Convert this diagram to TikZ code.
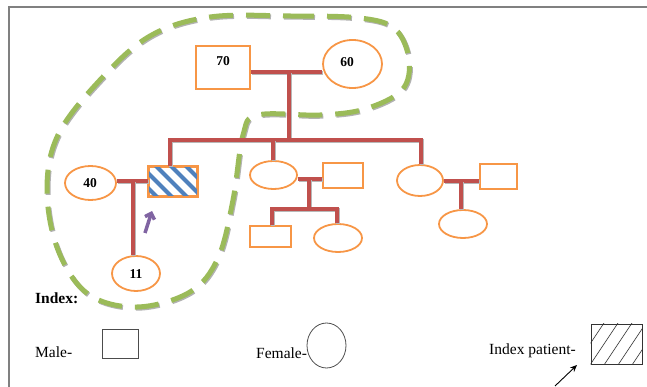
\documentclass[tikz,border=0pt]{standalone}
\usepackage{fontspec}
\setmainfont{Liberation Serif}
\usetikzlibrary{shapes.geometric,arrows.meta,calc}
\definecolor{pedred}{HTML}{C0504D}
\definecolor{pedorange}{HTML}{F79646}
\definecolor{pedgreen}{HTML}{9BBB59}
\definecolor{pedblue}{HTML}{4F81BD}
\definecolor{pedpurple}{HTML}{8064A2}
\begin{document}
\begin{tikzpicture}[x=1pt,y=-1pt,
  male/.style={draw=pedorange,line width=1.8pt,rectangle,inner sep=0pt},
  female/.style={draw=pedorange,line width=1.8pt,ellipse,inner sep=0pt},
  num/.style={font=\fontsize{13.5}{14}\selectfont\bfseries,inner sep=0pt},
  rel/.style={draw=pedred,line width=3.5pt,preaction={draw=black!28,line width=3.5pt,transform canvas={shift={(1pt,-1.2pt)}}}},
  loopline/.style={draw=pedgreen,line width=5pt,dash pattern=on 24pt off 13pt,
    preaction={draw=black!30,line width=5pt,dash pattern=on 24pt off 13pt,transform canvas={shift={(1pt,-1.2pt)}}}},
  lab/.style={font=\fontsize{15.5}{16}\selectfont,inner sep=0pt,anchor=west},
  legbox/.style={draw=black!70,line width=0.8pt,inner sep=0pt},
]
\useasboundingbox (0,0) rectangle (647,387);
% frame
\draw[black!50,line width=1.4pt] (647,7) -- (9,7) -- (9,387);

% green dashed loop
\draw[loopline]
  plot[smooth cycle,tension=0.6] coordinates {
  (210,17) (290,16) (360,18) (395,29) (409,60) (402,90) (365,109) (320,115)
  (258,115) (243,135) (233,200) (218,258) (190,292) (137,307) (88,294)
  (58,250) (47,190) (58,135) (100,80) (150,36)};

% nodes
\node[male,minimum width=54,minimum height=43] (m70) at (223,67.5) {};
\node[female,minimum width=59,minimum height=48] (f60) at (352.5,64) {};
\node[male,minimum width=48,minimum height=29] (ip) at (173,181.5) {};
\node[female,minimum width=47,minimum height=28] (f2) at (273.5,175) {};
\node[female,minimum width=46,minimum height=31] (f3) at (420,180.5) {};
\node[male,minimum width=40,minimum height=25] (m2s) at (343,175.5) {};
\node[male,minimum width=37,minimum height=25] (m3s) at (498.5,176.5) {};
\node[male,minimum width=41,minimum height=21] (gc1) at (270.5,236.5) {};
\node[female,minimum width=48,minimum height=28] (gc2) at (338,238) {};
\node[female,minimum width=48,minimum height=28] (gc3) at (463,224) {};
\node[female,minimum width=51,minimum height=34] (f40) at (90.5,183) {};
\node[female,minimum width=48,minimum height=35] (c11) at (136,273.5) {};

% hatched index patient
\begin{scope}
  \clip (ip.south west) rectangle (ip.north east);
  \foreach \x in {107,122,...,197} \draw[pedblue,line width=4pt] (\x,162) -- ++(40,40);
\end{scope}
\draw[pedorange,line width=1.8pt] (ip.south west) rectangle (ip.north east);

% texts
\node[num] (t70) at (223,61) {70};
\node[num] (t60) at (347,62) {60};
\node[num] (t40) at (90,183) {40};
\node[num] (t11) at (136,274) {11};

% relationship lines
\coordinate (c1) at (289,72);
\coordinate (s1) at (289,140);
\draw[rel] (c1 -| m70.east) -- (c1 -| f60.west);
\draw[rel] (c1) -- (s1);
\draw[rel] (ip.north -| 170,0) -- (170,140) -- (421,140) -- (f3.north -| 421,0);
\draw[rel] (273,140) -- (f2.north -| 273,0);

\coordinate (c2) at (133,181);
\draw[rel] (c2 -| f40.east) -- (c2 -| ip.west);
\draw[rel] (c2) -- (c11.north -| c2);

\coordinate (c3) at (309,179);
\coordinate (s3) at (309,209);
\draw[rel] (c3 -| f2.east) -- (c3 -| m2s.west);
\draw[rel] (c3) -- (s3);
\draw[rel] (gc1.north -| 272,0) -- (272,209) -- (337,209) -- (gc2.north -| 337,0);

\coordinate (c4) at (461,181);
\draw[rel] (c4 -| f3.east) -- (c4 -| m3s.west);
\draw[rel] (c4) -- (gc3.north -| c4);

% purple arrow
\coordinate (p1) at (145,233);
\coordinate (p2) at (152,211);
\draw[pedpurple,line width=3.5pt,-{Straight Barb[length=5pt,width=10pt]}] (p1) -- (p2);

% legend
\node[lab,font=\fontsize{15.5}{16}\selectfont\bfseries] (idx) at (35,298) {Index:};
\node[lab] (male) at (35,352) {Male-};
\node[legbox,minimum width=36,minimum height=29] (mbox) at (120,343.5) {};
\node[lab] (fem) at (256,353) {Female-};
\node[legbox,ellipse,minimum width=39,minimum height=45] (fcirc) at (326.5,345.5) {};
\node[lab] (ipt) at (489,351) {Index patient-};
\node[legbox,draw=black!80,minimum width=51,minimum height=40] (ipbox) at (616.5,344) {};
\begin{scope}
  \clip (ipbox.south west) rectangle (ipbox.north east);
  \foreach \x in {562,576,...,650} \draw[black!80,line width=0.6pt] (\x,365) -- ++(28,-42);
\end{scope}
\coordinate (a1) at (555,386);
\coordinate (a2) at (577,365);
\draw[black,line width=0.9pt,-{Stealth[length=7pt,width=6pt]}] (a1) -- (a2);
\end{tikzpicture}
\end{document}
